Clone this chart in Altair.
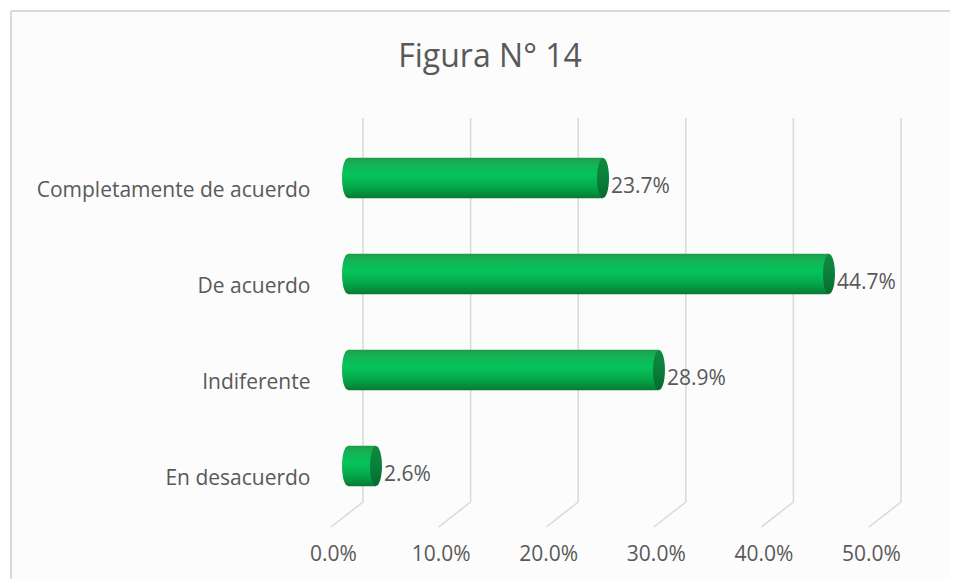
import altair as alt
import pandas as pd

categories = ["Completamente de acuerdo", "De acuerdo", "Indiferente", "En desacuerdo"]
values = [0.237, 0.447, 0.289, 0.026]
ticks = [0.0, 0.1, 0.2, 0.3, 0.4, 0.5]
title_text = "Figura N° 14"

df = pd.DataFrame({"cat": categories, "v": values})
tdf = pd.DataFrame({"t": ticks})

FONT = "Open Sans"
TXT = "#595959"
GRID = "#d9d9d9"
FS = 21

xscale = alt.Scale(domain=[0, 0.5], nice=False, zero=True)
yscale = alt.Scale(domain=categories, paddingInner=0.58, paddingOuter=0.29)

body_grad = {
    "gradient": "linear", "x1": 0, "y1": 0, "x2": 0, "y2": 1,
    "stops": [
        {"offset": 0.0, "color": "#1f9d4c"},
        {"offset": 0.18, "color": "#12b555"},
        {"offset": 0.42, "color": "#06c45c"},
        {"offset": 0.72, "color": "#05a94b"},
        {"offset": 0.9, "color": "#048c3d"},
        {"offset": 1.0, "color": "#0b7636"},
    ],
}
cap_grad = {
    "gradient": "linear", "x1": 0, "y1": 0, "x2": 0, "y2": 1,
    "stops": [
        {"offset": 0.0, "color": "#0d8a40"},
        {"offset": 0.5, "color": "#0a7f3a"},
        {"offset": 1.0, "color": "#066a2f"},
    ],
}
ELLIPSE = "M0,-1 A0.3,1 0 0,1 0,1 A0.3,1 0 0,1 0,-1 Z"

one = pd.DataFrame({"a": [0]})
bg = alt.Chart(one).mark_rect(fill="#fcfcfc", strokeWidth=0).encode(
    x=alt.value(-337), x2=alt.value(2000), y=alt.value(-119), y2=alt.value(2000)
)
border_top = alt.Chart(one).mark_rule(color=GRID, strokeWidth=2).encode(
    x=alt.value(-337), x2=alt.value(2000), y=alt.value(-119)
)
border_left = alt.Chart(one).mark_rule(color=GRID, strokeWidth=2).encode(
    x=alt.value(-337), y=alt.value(-119), y2=alt.value(2000)
)

title = alt.Chart(pd.DataFrame({"a": [title_text]})).mark_text(
    font=FONT, fontSize=32, color=TXT, align="center", baseline="middle"
).encode(x=alt.value(142), y=alt.value(-73), text="a:N")

grid_v = alt.Chart(tdf).mark_rule(color=GRID, strokeWidth=1.5, xOffset=15).encode(
    x=alt.X("t:Q", scale=xscale),
    y=alt.value(-12), y2=alt.value(372),
)
grid_d = alt.Chart(tdf).mark_rule(color=GRID, strokeWidth=1.5, xOffset=15, x2Offset=-17).encode(
    x=alt.X("t:Q", scale=xscale),
    x2="t:Q",
    y=alt.value(372), y2=alt.value(397),
)

base = alt.Chart(df)

xaxis = alt.Axis(format=".1%", values=ticks, grid=False, domain=False, ticks=False,
                 labelFont=FONT, labelFontSize=FS, labelColor=TXT, labelFlush=False,
                 labelOverlap=False, labelPadding=29, labelOffset=-15, title=None, zindex=1)
yaxis = alt.Axis(domain=False, ticks=False, grid=False, labelFont=FONT,
                 labelFontSize=FS, labelColor=TXT, labelPadding=38,
                 labelOffset=13, title=None, labelLimit=400, zindex=1)

body = base.transform_calculate(start="0").mark_bar(fill=body_grad, stroke=None, opacity=1).encode(
    x=alt.X("start:Q", scale=xscale, axis=xaxis),
    x2="v:Q",
    y=alt.Y("cat:N", scale=yscale, sort=categories, axis=yaxis),
)

left_cap = base.transform_calculate(start="0").mark_point(
    shape=ELLIPSE, size=1600, filled=True, fill=body_grad, strokeWidth=0, opacity=1
).encode(
    x=alt.X("start:Q", scale=xscale, axis=xaxis),
    y=alt.Y("cat:N", scale=yscale, sort=categories, axis=yaxis),
)

right_cap = base.mark_point(
    shape=ELLIPSE, size=1600, filled=True, fill=cap_grad, strokeWidth=0, opacity=1
).encode(
    x=alt.X("v:Q", scale=xscale, axis=xaxis),
    y=alt.Y("cat:N", scale=yscale, sort=categories, axis=yaxis),
)

labels = base.mark_text(
    font=FONT, fontSize=FS, color=TXT, align="left", baseline="middle", dx=8, dy=9
).encode(
    x=alt.X("v:Q", scale=xscale, axis=xaxis),
    y=alt.Y("cat:N", scale=yscale, sort=categories, axis=yaxis),
    text=alt.Text("v:Q", format=".1%"),
)

chart = alt.layer(bg, border_top, border_left, title, grid_v, grid_d,
                  left_cap, body, right_cap, labels).properties(
    width=538, height=384,
    padding={"left": 340, "top": 122, "right": 64, "bottom": 65},
    autosize=alt.AutoSizeParams(type="none"),
    background="white",
).configure_view(stroke=None)

chart.save("out.html", embed_options={"renderer": "svg", "actions": False})
